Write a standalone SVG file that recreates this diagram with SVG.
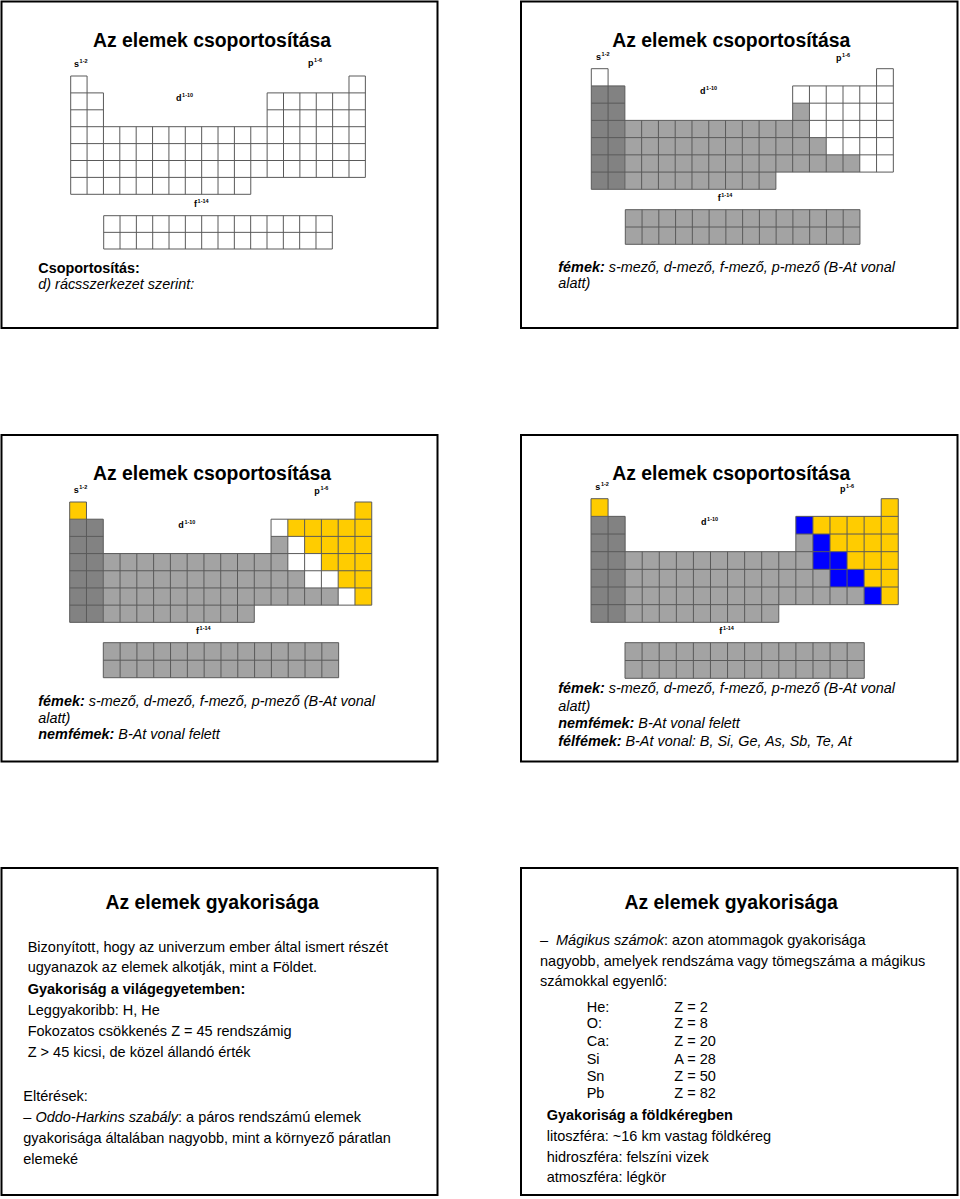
<svg xmlns="http://www.w3.org/2000/svg" xmlns:xlink="http://www.w3.org/1999/xlink" width="960" height="1199" viewBox="0 0 960 1199">
<style>
.fr{fill:none;stroke:#000;stroke-width:2}
.t{font-family:"Liberation Sans",Arial,sans-serif;font-weight:bold;font-size:19.4px;text-anchor:middle;fill:#000}
.lb{font-family:"Liberation Sans",Arial,sans-serif;font-weight:bold;font-size:9px;fill:#000}
.sp{font-size:5.5px}
.bd{font-family:"Liberation Sans",Arial,sans-serif;font-size:14.4px;fill:#000}
.tx{font-family:"Liberation Sans",Arial,sans-serif;font-size:14.5px;fill:#000}
.b{font-weight:bold}
.i{font-style:italic}
.gl{fill:none;stroke:#5a5a5a;stroke-width:1;vector-effect:non-scaling-stroke}
.dk{fill:#828282}
.gy{fill:#a3a3a3}
.ye{fill:#ffcc00}
.bl{fill:#0000ff}
</style>
<defs>
<path id="grid" class="gl" d="M0 0H1M17 0H18M0 1H2M12 1H18M0 2H2M12 2H18M0 3H18M0 4H18M0 5H18M0 6H18M0 7H11M0 0V7M1 0V7M2 1V7M3 3V7M4 3V7M5 3V7M6 3V7M7 3V7M8 3V7M9 3V7M10 3V7M11 3V7M12 1V6M13 1V6M14 1V6M15 1V6M16 1V6M17 0V6M18 0V6"/>
<path id="fgrid" class="gl" d="M0 0H14M0 1H14M0 2H14M0 0V2M1 0V2M2 0V2M3 0V2M4 0V2M5 0V2M6 0V2M7 0V2M8 0V2M9 0V2M10 0V2M11 0V2M12 0V2M13 0V2M14 0V2"/>
<path id="metal" d="M2 3H12V2H13V4H14V5H16V6H11V7H2Z"/>
<path id="nonmetal" d="M0 0H1V1H0Z M17 0H18V6H17V5H16V4H15V3H14V2H13V1H17Z"/>
<path id="semi" d="M12 1h1v1h-1z M13 2h1v2h-1z M14 3h1v2h-1z M15 4h1v1h-1z M16 5h1v1h-1z"/>
</defs>

<!-- Slide 1 -->
<g id="slide1">
<rect class="fr" x="1.5" y="1.5" width="436" height="326.5"/>
<text class="t" x="212" y="46.7">Az elemek csoportosítása</text>
<g id="s1-table" transform="translate(70.7,76) scale(16.37,16.9)"><use xlink:href="#grid"/></g>
<g id="s1-f" transform="translate(103.7,215.7) scale(16.33,16.65)"><use xlink:href="#fgrid"/></g>
<text class="lb" x="74" y="67">s<tspan class="sp" dy="-4" dx="0.6">1-2</tspan></text>
<text class="lb" x="308" y="66">p<tspan class="sp" dy="-4" dx="0.6">1-6</tspan></text>
<text class="lb" x="176" y="101">d<tspan class="sp" dy="-4" dx="0.6">1-10</tspan></text>
<text class="lb" x="194" y="206.7">f<tspan class="sp" dy="-4" dx="0.6">1-14</tspan></text>
<text class="bd b" x="38.3" y="272.7">Csoportosítás:</text>
<text class="bd i" x="38.3" y="289.3">d) rácsszerkezet szerint:</text>
</g>

<!-- Slide 2 -->
<g id="slide2">
<rect class="fr" x="521" y="1.5" width="436.5" height="326.5"/>
<text class="t" x="731.3" y="46.7">Az elemek csoportosítása</text>
<g id="s2-table" transform="translate(591.3,68.7) scale(16.78,17.23)">
<rect class="dk" x="0" y="1" width="2" height="6"/>
<use xlink:href="#metal" class="gy"/>
<use xlink:href="#grid"/></g>
<g id="s2-f" transform="translate(625.3,209.7) scale(16.76,17.3)">
<rect class="gy" x="0" y="0" width="14" height="2"/>
<use xlink:href="#fgrid"/></g>
<text class="lb" x="596" y="60">s<tspan class="sp" dy="-4" dx="0.6">1-2</tspan></text>
<text class="lb" x="836" y="61">p<tspan class="sp" dy="-4" dx="0.6">1-6</tspan></text>
<text class="lb" x="700" y="94">d<tspan class="sp" dy="-4" dx="0.6">1-10</tspan></text>
<text class="lb" x="717.7" y="201">f<tspan class="sp" dy="-4" dx="0.6">1-14</tspan></text>
<text class="bd i" x="558.3" y="271.7"><tspan class="b">fémek:</tspan> s-mező, d-mező, f-mező, p-mező (B-At vonal</text>
<text class="bd i" x="558.3" y="288.3">alatt)</text>
</g>

<!-- Slide 3 -->
<g id="slide3">
<rect class="fr" x="1.5" y="435" width="436" height="326.5"/>
<text class="t" x="212" y="480">Az elemek csoportosítása</text>
<g id="s3-table" transform="translate(69.7,502) scale(16.78,17.19)">
<rect class="dk" x="0" y="1" width="2" height="6"/>
<use xlink:href="#metal" class="gy"/>
<use xlink:href="#nonmetal" class="ye"/>
<use xlink:href="#grid"/></g>
<g id="s3-f" transform="translate(103.3,642.7) scale(16.81,17.5)">
<rect class="gy" x="0" y="0" width="14" height="2"/>
<use xlink:href="#fgrid"/></g>
<text class="lb" x="73.7" y="493.3">s<tspan class="sp" dy="-4" dx="0.6">1-2</tspan></text>
<text class="lb" x="314.3" y="494">p<tspan class="sp" dy="-4" dx="0.6">1-6</tspan></text>
<text class="lb" x="178.3" y="527.7">d<tspan class="sp" dy="-4" dx="0.6">1-10</tspan></text>
<text class="lb" x="196" y="634">f<tspan class="sp" dy="-4" dx="0.6">1-14</tspan></text>
<text class="bd i" x="38.3" y="706"><tspan class="b">fémek:</tspan> s-mező, d-mező, f-mező, p-mező (B-At vonal</text>
<text class="bd i" x="38.3" y="722.7">alatt)</text>
<text class="bd i" x="38.3" y="739.3"><tspan class="b">nemfémek:</tspan> B-At vonal felett</text>
</g>

<!-- Slide 4 -->
<g id="slide4">
<rect class="fr" x="521" y="435" width="436.5" height="326.5"/>
<text class="t" x="731.3" y="480">Az elemek csoportosítása</text>
<g id="s4-table" transform="translate(591,498.7) scale(17.07,17.66)">
<rect class="dk" x="0" y="1" width="2" height="6"/>
<use xlink:href="#metal" class="gy"/>
<use xlink:href="#nonmetal" class="ye"/>
<use xlink:href="#semi" class="bl"/>
<use xlink:href="#grid"/></g>
<g id="s4-f" transform="translate(625,642.7) scale(17.09,17.8)">
<rect class="gy" x="0" y="0" width="14" height="2"/>
<use xlink:href="#fgrid"/></g>
<text class="lb" x="595.3" y="490">s<tspan class="sp" dy="-4" dx="0.6">1-2</tspan></text>
<text class="lb" x="840" y="491.7">p<tspan class="sp" dy="-4" dx="0.6">1-6</tspan></text>
<text class="lb" x="701" y="525">d<tspan class="sp" dy="-4" dx="0.6">1-10</tspan></text>
<text class="lb" x="719.3" y="634">f<tspan class="sp" dy="-4" dx="0.6">1-14</tspan></text>
<text class="bd i" x="558.3" y="693.3"><tspan class="b">fémek:</tspan> s-mező, d-mező, f-mező, p-mező (B-At vonal</text>
<text class="bd i" x="558.3" y="710.7">alatt)</text>
<text class="bd i" x="558.3" y="728.3"><tspan class="b">nemfémek:</tspan> B-At vonal felett</text>
<text class="bd i" x="558.3" y="745.7"><tspan class="b">félfémek:</tspan> B-At vonal: B, Si, Ge, As, Sb, Te, At</text>
</g>

<!-- Slide 5 -->
<g id="slide5">
<rect class="fr" x="1.5" y="868" width="436" height="327"/>
<text class="t" x="212.2" y="909.3">Az elemek gyakorisága</text>
<text class="tx" x="27.7" y="951.7">Bizonyított, hogy az univerzum ember által ismert részét</text>
<text class="tx" x="27.7" y="972.3">ugyanazok az elemek alkotják, mint a Földet.</text>
<text class="tx b" x="27.7" y="994">Gyakoriság a világegyetemben:</text>
<text class="tx" x="27.7" y="1015">Leggyakoribb: H, He</text>
<text class="tx" x="27.7" y="1035.7">Fokozatos csökkenés Z = 45 rendszámig</text>
<text class="tx" x="27.7" y="1056.7">Z &gt; 45 kicsi, de közel állandó érték</text>
<text class="tx" x="23.3" y="1100.7">Eltérések:</text>
<text class="tx" x="23.3" y="1122.3">– <tspan class="i">Oddo-Harkins szabály</tspan>: a páros rendszámú elemek</text>
<text class="tx" x="23.3" y="1143.3">gyakorisága általában nagyobb, mint a környező páratlan</text>
<text class="tx" x="23.3" y="1164">elemeké</text>
</g>

<!-- Slide 6 -->
<g id="slide6">
<rect class="fr" x="521" y="868" width="436.5" height="327"/>
<text class="t" x="731.2" y="909.3">Az elemek gyakorisága</text>
<text class="tx" x="540" y="945">–</text>
<text class="tx" x="556" y="945"><tspan class="i">Mágikus számok</tspan>: azon atommagok gyakorisága</text>
<text class="tx" x="540" y="965.7">nagyobb, amelyek rendszáma vagy tömegszáma a mágikus</text>
<text class="tx" x="540" y="985.7">számokkal egyenlő:</text>
<text class="tx" x="586.7" y="1011.7">He:</text><text class="tx" x="674.3" y="1011.7">Z = 2</text>
<text class="tx" x="586.7" y="1028.3">O:</text><text class="tx" x="674.3" y="1028.3">Z = 8</text>
<text class="tx" x="586.7" y="1046">Ca:</text><text class="tx" x="674.3" y="1046">Z = 20</text>
<text class="tx" x="586.7" y="1063.7">Si</text><text class="tx" x="674.3" y="1063.7">A = 28</text>
<text class="tx" x="586.7" y="1081">Sn</text><text class="tx" x="674.3" y="1081">Z = 50</text>
<text class="tx" x="586.7" y="1098.3">Pb</text><text class="tx" x="674.3" y="1098.3">Z = 82</text>
<text class="tx b" x="546.7" y="1120">Gyakoriság a földkéregben</text>
<text class="tx" x="546.7" y="1141">litoszféra: ~16 km vastag földkéreg</text>
<text class="tx" x="546.7" y="1161.7">hidroszféra: felszíni vizek</text>
<text class="tx" x="546.7" y="1182.3">atmoszféra: légkör</text>
</g>
</svg>
